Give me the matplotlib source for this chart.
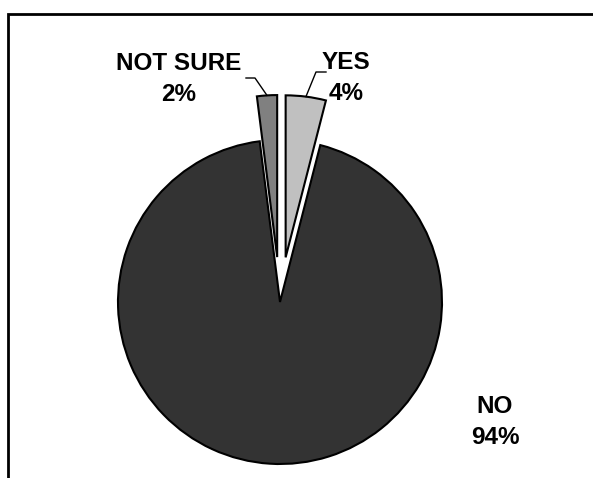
import numpy as np
import matplotlib.pyplot as plt
from matplotlib.patches import Rectangle

# Survey answers, clockwise from 12 o'clock
labels = ['YES', 'NO', 'NOT SURE']
values = [4, 94, 2]
colors = ['#c0c0c0', '#333333', '#808080']
explode = [45, 0, 45]  # pie offsets are in data units here

W, H = 593, 478
fig = plt.figure(figsize=(W / 100, H / 100), dpi=100)
ax = fig.add_axes([0, 0, 1, 1])

cx, cy, r = 280, 176, 162
wedges, _ = ax.pie(values, colors=colors, explode=explode, startangle=90,
                   counterclock=False, center=(cx, cy), radius=r,
                   wedgeprops=dict(edgecolor='black', linewidth=1.5),
                   frame=True)
ax.set_xlim(0, W)
ax.set_ylim(0, H)
ax.set_aspect('equal')
ax.axis('off')

font = dict(family='Liberation Sans', weight='bold', fontsize=17.5,
            ha='center', va='center', linespacing=1.4)

def edge_point(i):
    # point on the outer arc of wedge i at its mid angle (after explode)
    w = wedges[i]
    mid = np.deg2rad((w.theta1 + w.theta2) / 2)
    wx, wy = w.center
    return wx + r * np.cos(mid), wy + r * np.sin(mid)

# YES label with leader line
px, py = edge_point(0)
ax.plot([px, 316, 326], [py, H - 72, H - 72], color='black', lw=1.0)
ax.text(346, H - 78, f'{labels[0]}\n{values[0]}%', **font)

# NOT SURE label with leader line
px, py = edge_point(2)
ax.plot([px, 255, 246], [py, H - 78, H - 78], color='black', lw=1.0)
ax.text(179, H - 79, f'{labels[2]}\n{values[2]}%', **font)

# NO label
ax.text(495, H - 422, f'{labels[1]}\n{values[1]}%', **font)

# chart border, running off the right and bottom edges
fig.patches.append(Rectangle((8 / W, -0.1), 1.2, 1.1 - 14 / H,
                             transform=fig.transFigure, fill=False,
                             edgecolor='black', linewidth=2))

fig.savefig('out.png', dpi=100)
